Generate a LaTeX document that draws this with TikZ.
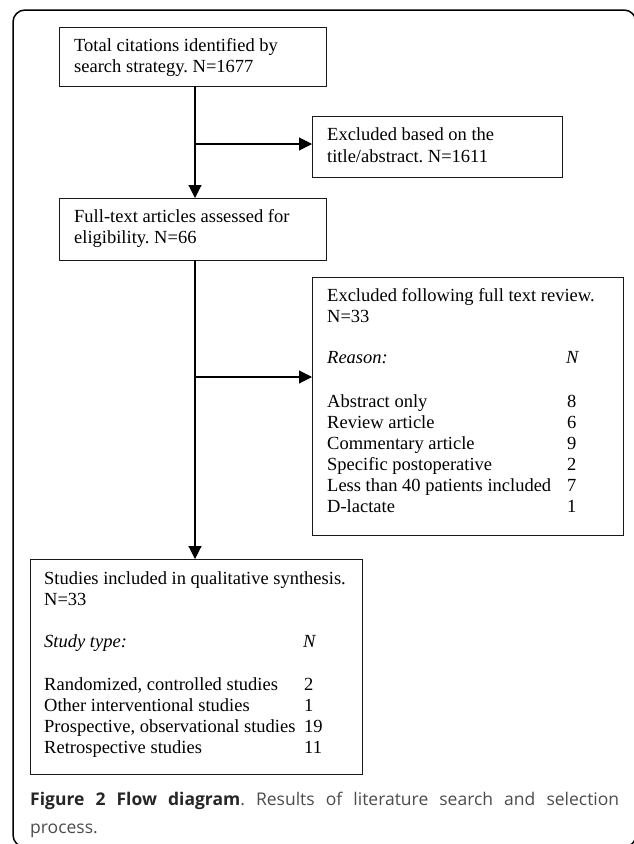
\documentclass[tikz,border=0pt]{standalone}
\usepackage{fontspec}
\setmainfont{Liberation Serif}
\newfontfamily\capfont{Open Sans}
\usetikzlibrary{arrows.meta}
\frenchspacing
\begin{document}
\begin{tikzpicture}[x=1pt,y=-1pt,
  box/.style={draw=black!90,line width=1pt,inner sep=0pt,outer sep=0pt},
  txt/.style={anchor=base west,inner sep=0pt,font=\fontsize{18.5}{21}\selectfont},
  arr/.style={line width=1.1pt,-{Triangle[length=13pt,width=13pt]}},
  captxt/.style={anchor=base west,inner sep=0pt,font=\capfont\fontsize{17.5}{21}\selectfont}]
\useasboundingbox (0,0) rectangle (634,844);
\draw[line width=1.5pt,rounded corners=12pt] (13,10) rectangle (636,847);
% boxes
\node[box,minimum width=267pt,minimum height=59pt] (b1) at (192.5,56.5) {};
\node[box,minimum width=250pt,minimum height=61pt] (b2) at (437,146.5) {};
\node[box,minimum width=267pt,minimum height=62pt] (b3) at (192.5,229) {};
\node[box,minimum width=311pt,minimum height=258pt] (b4) at (467.5,406) {};
\node[box,minimum width=332pt,minimum height=215pt] (b5) at (196,666.5) {};
% texts
\node[txt] (t1a) at (74,51) {Total citations identified by};
\node[txt] (t1b) at (74,72) {search strategy. N=1677};
\node[txt] (t2a) at (327,140) {Excluded based on the};
\node[txt] (t2b) at (327,162) {title/abstract. N=1611};
\node[txt] (t3a) at (74,222) {Full-text articles assessed for};
\node[txt] (t3b) at (74,243) {eligibility. N=66};
\node[txt] (t4a) at (327,301) {Excluded following full text review.};
\node[txt] (t4b) at (327,322) {N=33};
\node[txt] (t4c) at (327,363) {\itshape Reason:};
\node[txt] (t4cn) at (566,363) {\itshape N};
\node[txt] (t4d) at (327,407) {Abstract only};
\node[txt] (t4dn) at (567,407) {8};
\node[txt] (t4e) at (327,428) {Review article};
\node[txt] (t4en) at (567,428) {6};
\node[txt] (t4f) at (327,449) {Commentary article};
\node[txt] (t4fn) at (567,449) {9};
\node[txt] (t4g) at (327,470) {Specific postoperative};
\node[txt] (t4gn) at (567,470) {2};
\node[txt] (t4h) at (327,491) {Less than 40 patients included};
\node[txt] (t4hn) at (567,491) {7};
\node[txt] (t4i) at (327,512) {D-lactate};
\node[txt] (t4in) at (567,512) {1};
\node[txt] (t5a) at (44,584) {Studies included in qualitative synthesis.};
\node[txt] (t5b) at (44,605) {N=33};
\node[txt] (t5c) at (44,647) {\itshape Study type:};
\node[txt] (t5cn) at (303,647) {\itshape N};
\node[txt] (t5d) at (44,690) {Randomized, controlled studies};
\node[txt] (t5dn) at (304,690) {2};
\node[txt] (t5e) at (44,711) {Other interventional studies};
\node[txt] (t5en) at (304,711) {1};
\node[txt] (t5f) at (44,732) {Prospective, observational studies};
\node[txt] (t5fn) at (304,732) {19};
\node[txt] (t5g) at (44,753) {Retrospective studies};
\node[txt] (t5gn) at (304,753) {11};
% connectors
\coordinate (j1) at (195,144);
\coordinate (j2) at (195,377);
\draw[arr] (b1.south -| j1) -- (b3.north -| j1);
\draw[arr] (j1) -- (b2.west |- j1);
\draw[arr] (b3.south -| j2) -- (b5.north -| j2);
\draw[arr] (j2) -- (b4.west |- j2);
% caption
\node[captxt] (c1) at (30,805) {\makebox[589pt][s]{\color{black!85}\bfseries Figure 2 Flow diagram\color{black!70}\mdseries. Results of literature search and selection}};
\node[captxt] (c2) at (30,833) {\color{black!70}process.};
\end{tikzpicture}
\end{document}
